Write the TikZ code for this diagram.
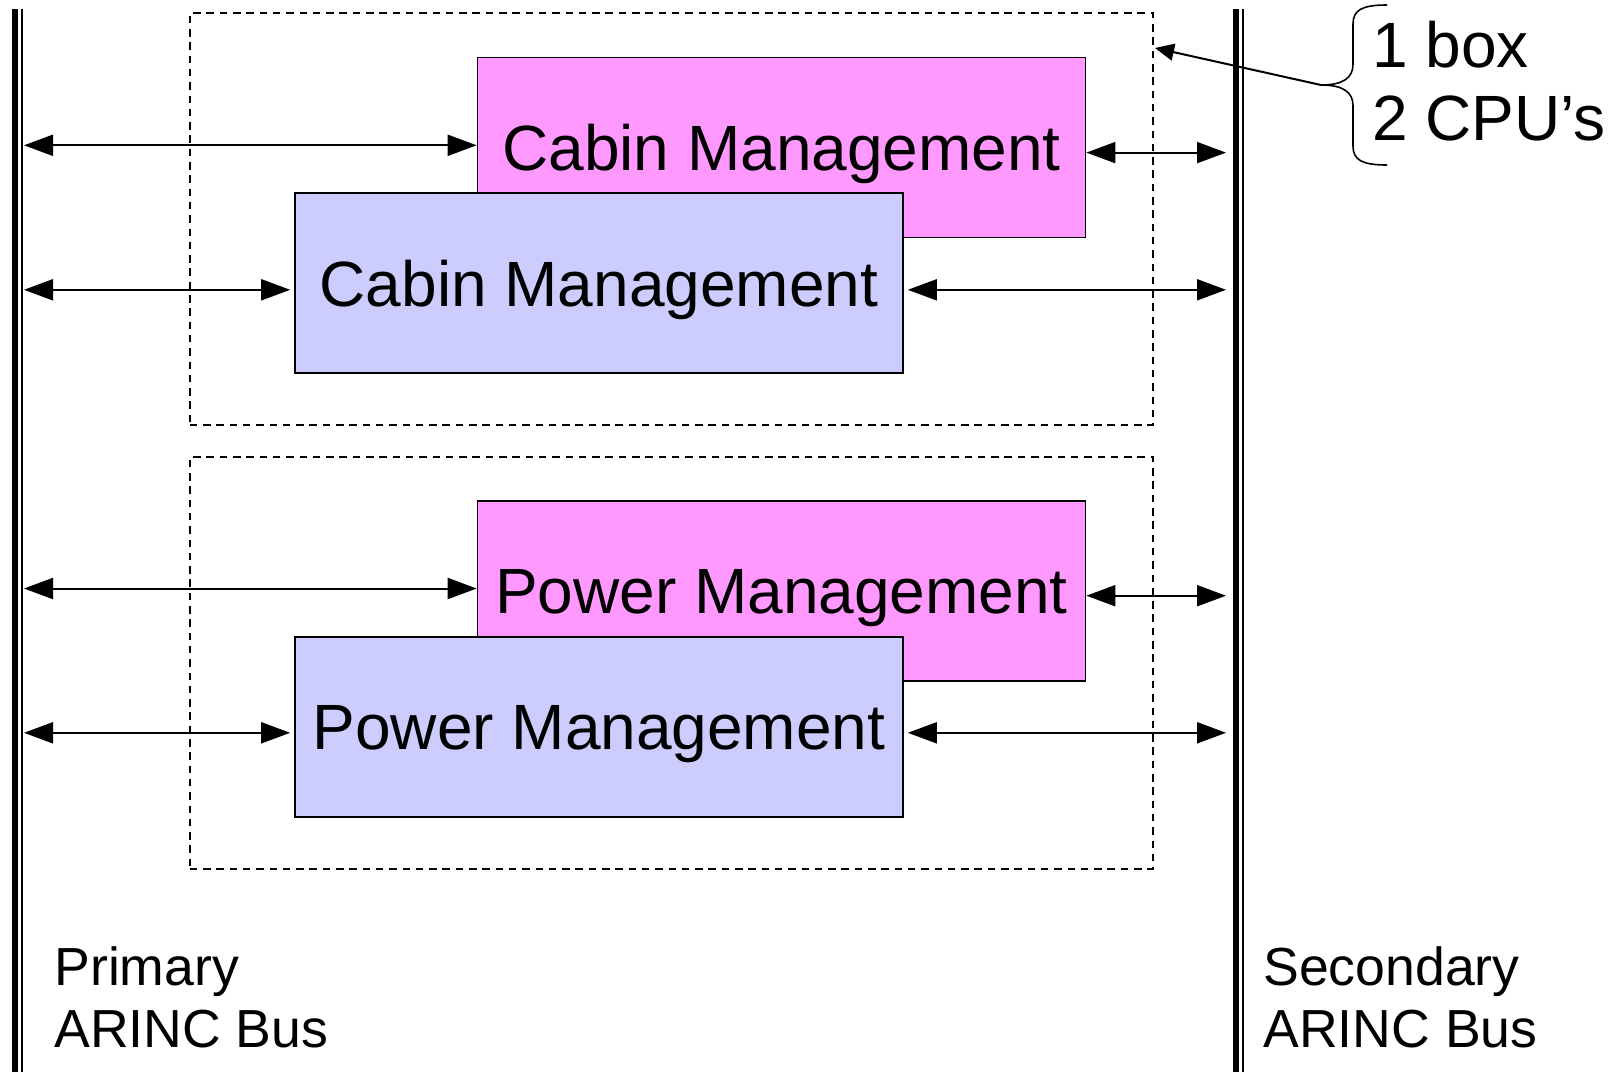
\documentclass[tikz,border=0pt]{standalone}
\usepackage{fontspec}
\setmainfont{Liberation Sans}
\usetikzlibrary{arrows.meta}
\definecolor{cpupink}{RGB}{255,153,255}
\definecolor{cpublue}{RGB}{204,204,255}
\begin{document}
\begin{tikzpicture}[x=0.5pt,y=-0.5pt,
  cpubox/.style={draw=black, line width=0.85pt, minimum width=304pt,
    minimum height=90pt, inner sep=0pt, text depth=0pt,
    font=\fontsize{32}{38}\selectfont},
  pinkbox/.style={cpubox, fill=cpupink},
  bluebox/.style={cpubox, fill=cpublue},
  unitbox/.style={draw=black, line width=1pt, dash pattern=on 3.75pt off 2.9pt,
    minimum width=481.75pt, minimum height=205.7pt, inner sep=0pt},
  busthick/.style={line width=2.9pt},
  busthin/.style={line width=1.05pt},
  biarrow/.style={line width=1pt,
    {Triangle[length=14.5pt,width=10.5pt]}-{Triangle[length=14.5pt,width=10.5pt]}},
  buslabel/.style={align=left, inner sep=0pt, anchor=north west,
    font=\fontsize{26.8}{31}\selectfont},
  notelabel/.style={align=left, inner sep=0pt, anchor=north west,
    font=\fontsize{32}{36.5}\selectfont}
]
\useasboundingbox (0,0) rectangle (1616,1072);

% ARINC buses: a heavy and a light rail each
\draw[busthick] (14.7,9.3) -- (14.7,1072);
\draw[busthin]  (22.3,9.3) -- (22.3,1072);
\draw[busthick] (1236,9.3) -- (1236,1072);
\draw[busthin]  (1242.9,9.3) -- (1242.9,1072);

% one box each, holding two CPUs
\node[unitbox] (unitA) at (671.5,219) {};
\node[unitbox] (unitB) at (671.5,663) {};

% CPUs
\node[pinkbox] (cabA) at (781.5,147.5) {Cabin Management};
\node[bluebox] (cabB) at (599,283)     {Cabin Management};
\node[pinkbox] (powA) at (781.5,591)   {Power Management};
\node[bluebox] (powB) at (599,727)     {Power Management};

% bus attachment points
\coordinate (p1) at (24,145.3);   \coordinate (s1) at (1226,152.6);
\coordinate (p2) at (24,289.8);   \coordinate (s2) at (1226,289.8);
\coordinate (p3) at (24,588.5);   \coordinate (s3) at (1226,595.7);
\coordinate (p4) at (24,732.8);   \coordinate (s4) at (1226,732.8);

% links to the primary bus
\draw[biarrow] (p1) -- (p1 -| cabA.west);
\draw[biarrow] (p2) -- ([xshift=-2pt]p2 -| cabB.west);
\draw[biarrow] (p3) -- (p3 -| powA.west);
\draw[biarrow] (p4) -- ([xshift=-2pt]p4 -| powB.west);

% links to the secondary bus
\draw[biarrow] (s1 -| cabA.east) -- (s1);
\draw[biarrow] ([xshift=2pt]s2 -| cabB.east) -- (s2);
\draw[biarrow] (s3 -| powA.east) -- (s3);
\draw[biarrow] ([xshift=2pt]s4 -| powB.east) -- (s4);

% bus names
\node[buslabel] (primlbl) at (54,946)  {Primary\\ARINC Bus};
\node[buslabel] (seclbl)  at (1263,946) {Secondary\\ARINC Bus};

% brace note
\coordinate (tip) at (1321,85);
\coordinate (ptr) at (1155,48);
\draw[line width=0.8pt]
  (1387,5) .. controls (1362,5) and (1353,10) .. (1353,24)
  -- (1353,64) .. controls (1353,78) and (1343,85) .. (tip)
  .. controls (1343,85) and (1353,92) .. (1353,106)
  -- (1353,146) .. controls (1353,160) and (1362,165) .. (1387,165);
\draw[line width=1pt, -{Triangle[length=9.5pt,width=8.5pt]}] (tip) -- (ptr);
\node[notelabel] (note) at (1372,21) {1 box\\2 CPU’s};
\end{tikzpicture}
\end{document}
